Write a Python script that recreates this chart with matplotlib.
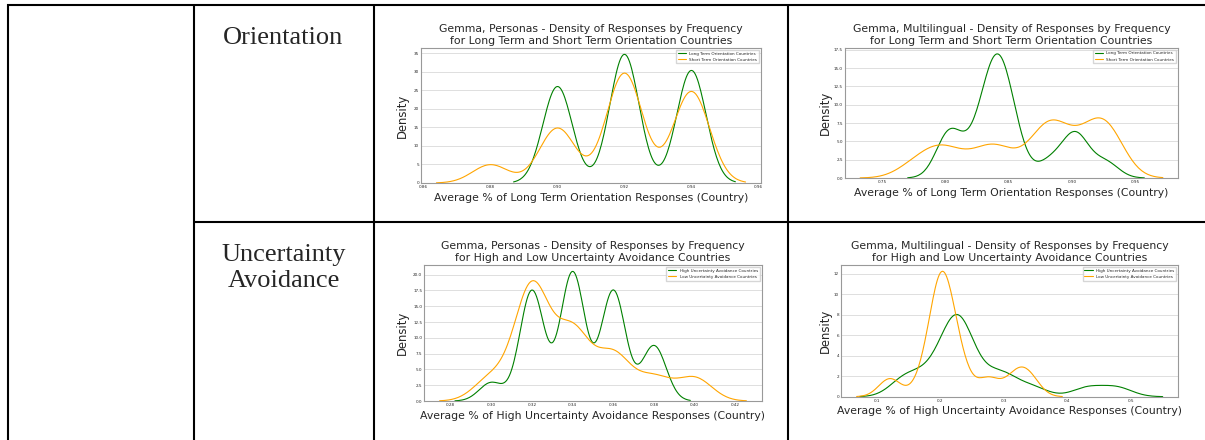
import numpy as np
import matplotlib
matplotlib.use("Agg")
import matplotlib.pyplot as plt
from matplotlib.ticker import MultipleLocator
import seaborn as sns

sns.set_style("whitegrid")
plt.rcParams['font.family'] = ['DejaVu Sans']

W, H = 1205, 440

# ---------------- data ----------------
# Gemma, Personas - Long/Short Term Orientation (country averages, value + count)
p1_long_vals = [0.90, 0.92, 0.94]
p1_long_counts = [6, 8, 7]
p1_short_vals = [0.88, 0.90, 0.92, 0.94]
p1_short_counts = [1, 3, 6, 5]

# Gemma, Multilingual - Long/Short Term Orientation (country averages)
p2_long = [0.8007, 0.8042, 0.8047, 0.8212, 0.8312, 0.8327, 0.8367, 0.8387, 0.8407, 0.8432,
           0.8447, 0.8467, 0.8502, 0.8557, 0.8822, 0.8992, 0.9022, 0.9067, 0.9267]
p2_short = [0.7755, 0.7935, 0.7965, 0.8125, 0.8350, 0.8350, 0.8495, 0.8735, 0.8805, 0.8825,
            0.8830, 0.8930, 0.9050, 0.9170, 0.9190, 0.9290, 0.9290, 0.9290]

# Gemma, Personas - High/Low Uncertainty Avoidance (value + count)
p3_high_vals = [0.30, 0.32, 0.34, 0.36, 0.38]
p3_high_counts = [1, 6, 7, 6, 3]
p3_low_vals = [0.30, 0.32, 0.34, 0.36, 0.38, 0.40]
p3_low_counts = [1, 5, 3, 2, 1, 1]

# Gemma, Multilingual - High/Low Uncertainty Avoidance (country averages)
p4_high = [0.145, 0.145, 0.180, 0.190, 0.214, 0.221, 0.222, 0.222, 0.226, 0.230,
           0.234, 0.235, 0.241, 0.273, 0.298, 0.301, 0.345, 0.432, 0.478]
p4_low = [0.1206, 0.1756, 0.1966, 0.1996, 0.2006, 0.2006, 0.2036, 0.2086, 0.2216, 0.2316,
          0.2756, 0.3176, 0.3396]

row_labels = ['Orientation', 'Uncertainty\nAvoidance']
lto_labels = ['Long Term Orientation Countries', 'Short Term Orientation Countries']
ua_labels = ['High Uncertainty Avoidance Countries', 'Low Uncertainty Avoidance Countries']

# ---------------- figure / table frame ----------------
fig = plt.figure(figsize=(W / 100, H / 100), dpi=100)
bg = fig.add_axes([0, 0, 1, 1])
bg.set_xlim(0, W); bg.set_ylim(H, 0); bg.axis('off')
lw = 1.5
bg.plot([7, W], [5, 5], color='black', lw=lw, solid_capstyle='butt')
for x in [7.5, 194, 373.5, 787.5]:
    bg.plot([x, x], [4.3, H], color='black', lw=lw, solid_capstyle='butt')
bg.plot([194, W], [222.5, 222.5], color='black', lw=lw, solid_capstyle='butt')
bg.text(283.5, 43.5, row_labels[0], fontsize=19, family='Liberation Serif',
        ha='center', va='baseline')
bg.text(283.5, 243.7, row_labels[1], fontsize=19, family='Liberation Serif',
        ha='center', va='top', linespacing=1.26)


def px_axes(l, t, r, b):
    return fig.add_axes([l / W, 1 - b / H, (r - l) / W, (b - t) / H])


def panel(rect, series, title, xlabel, xstep, ystep, ypad):
    ax = px_axes(*rect)
    for samples, color, label in series:
        sns.kdeplot(x=samples, bw_adjust=0.5, color=color, label=label, lw=0.8, ax=ax)
    ax.set_title(title, fontsize=7.8, pad=3)
    ax.set_xlabel(xlabel, fontsize=7.8, labelpad=2.5)
    ax.set_ylabel('Density', fontsize=8.4, labelpad=ypad)
    ax.xaxis.set_major_locator(MultipleLocator(xstep))
    ax.yaxis.set_major_locator(MultipleLocator(ystep))
    ax.tick_params(labelsize=3, length=0, pad=1.5)
    ax.grid(axis='x', visible=False)
    ax.grid(axis='y', color='0.85', lw=0.6)
    for sp in ax.spines.values():
        sp.set_color('0.6'); sp.set_linewidth(0.8)
    ax.legend(loc='upper right', fontsize=3, edgecolor='0.8', fancybox=False)
    return ax


panel((421, 48, 761, 183),
      [(np.repeat(p1_long_vals, p1_long_counts), 'green', lto_labels[0]),
       (np.repeat(p1_short_vals, p1_short_counts), 'orange', lto_labels[1])],
      'Gemma, Personas - Density of Responses by Frequency\nfor Long Term and Short Term Orientation Countries',
      'Average % of Long Term Orientation Responses (Country)', 0.02, 5, 3.2)
panel((845, 47.7, 1178, 178),
      [(p2_long, 'green', lto_labels[0]), (p2_short, 'orange', lto_labels[1])],
      'Gemma, Multilingual - Density of Responses by Frequency\nfor Long Term and Short Term Orientation Countries',
      'Average % of Long Term Orientation Responses (Country)', 0.05, 2.5, 1.2)
panel((424.3, 265, 761.7, 401),
      [(np.repeat(p3_high_vals, p3_high_counts), 'green', ua_labels[0]),
       (np.repeat(p3_low_vals, p3_low_counts), 'orange', ua_labels[1])],
      'Gemma, Personas - Density of Responses by Frequency\nfor High and Low Uncertainty Avoidance Countries',
      'Average % of High Uncertainty Avoidance Responses (Country)', 0.02, 2.5, 3.2)
panel((841.3, 265, 1178, 396.7),
      [(p4_high, 'green', ua_labels[0]), (p4_low, 'orange', ua_labels[1])],
      'Gemma, Multilingual - Density of Responses by Frequency\nfor High and Low Uncertainty Avoidance Countries',
      'Average % of High Uncertainty Avoidance Responses (Country)', 0.1, 2, 1.7)

fig.savefig('out.png', dpi=100)
